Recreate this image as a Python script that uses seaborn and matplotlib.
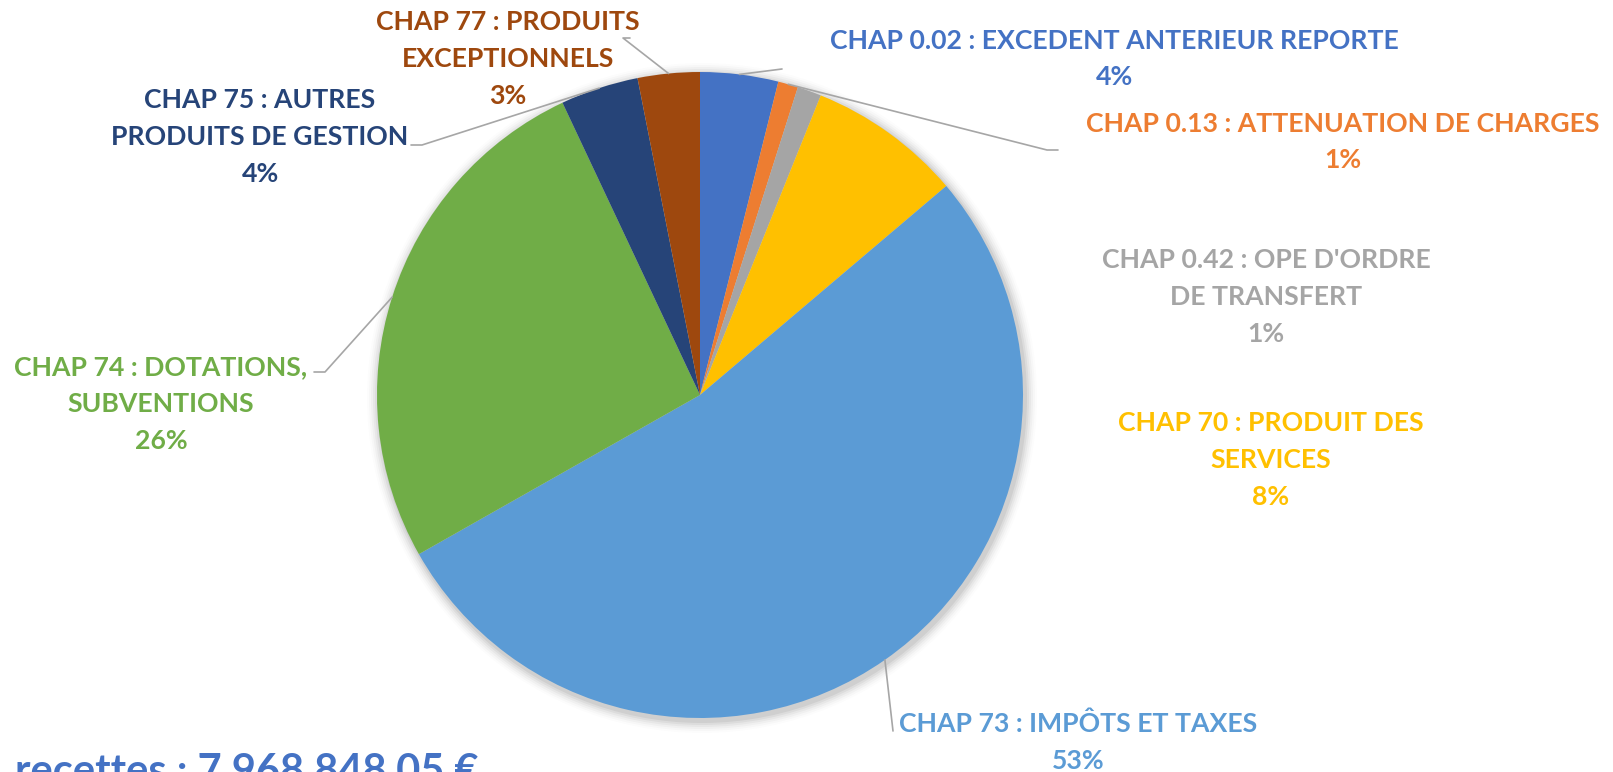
import numpy as np
import matplotlib
matplotlib.use("Agg")
import matplotlib.pyplot as plt
import seaborn as sns

# chapter names, as shown on the chart (clockwise from 12 o'clock)
labels = [
    "CHAP 0.02 : EXCEDENT ANTERIEUR REPORTE",
    "CHAP 0.13 : ATTENUATION DE CHARGES",
    "CHAP 0.42 : OPE D'ORDRE\nDE TRANSFERT",
    "CHAP 70 : PRODUIT DES\nSERVICES",
    "CHAP 73 : IMPÔTS ET TAXES",
    "CHAP 74 : DOTATIONS,\nSUBVENTIONS",
    "CHAP 75 : AUTRES\nPRODUITS DE GESTION",
    "CHAP 77 : PRODUITS\nEXCEPTIONNELS",
]
# share of total income (%)
shares = [3.9, 1.0, 1.2, 7.7, 53.0, 26.2, 3.9, 3.1]
shown_pct = ["4%", "1%", "1%", "8%", "53%", "26%", "4%", "3%"]
colors = ["#4472C4", "#ED7D31", "#A5A5A5", "#FFC000",
          "#5B9BD5", "#70AD47", "#264478", "#9E480E"]
total_text = "recettes : 7 968 848,05 €"

W, H = 1613, 772
sns.set_theme(style="white")
plt.rcParams["font.family"] = ["Lato", "DejaVu Sans"]

fig = plt.figure(figsize=(W / 100, H / 100), dpi=100)
ax = fig.add_axes([0, 0, 1, 1])

cx, cy, r = 700, H - 395, 323

# soft shadow round the pie
for k, a in enumerate(np.linspace(0.05, 0.012, 6)):
    ax.add_patch(plt.Circle((cx + 2, cy - 3), r + 2 + 2 * k, color="black",
                            alpha=a, lw=0, zorder=0))

wedges, _ = ax.pie(shares, colors=colors, startangle=90, counterclock=False,
                   center=(cx, cy), radius=r, frame=True,
                   wedgeprops=dict(linewidth=0))
ax.set_xlim(0, W)
ax.set_ylim(0, H)
ax.set_aspect("equal")
ax.axis("off")

# label layout (pixel centre of the text block, from top)
label_pos = [(1114, 59), (1343, 142), (1266, 297), (1271, 460),
             (1078, 742), (161, 404), (260, 137), (508, 59)]
# leader line elbows (None = no leader line)
leader = [
    [(782, 69)],
    [(1047, 150), (1058, 150)],
    None,
    None,
    [(893, 731)],
    [(325, 372), (314, 372)],
    [(422, 145), (411, 145)],
    [(623, 38), (630, 38)],
]

cum = np.cumsum([0] + shares)
tot = cum[-1]
for i, lab in enumerate(labels):
    x, y = label_pos[i]
    ax.text(x, H - y, lab + "\n" + shown_pct[i], ha="center", va="center",
            multialignment="center", color=colors[i], fontsize=19.2,
            fontweight="bold", linespacing=1.64)
    if leader[i] is not None:
        mid = (cum[i] + cum[i + 1]) / 2 / tot * 2 * np.pi
        pts = [(cx + r * np.sin(mid), cy + r * np.cos(mid))]
        pts += [(px, H - py) for px, py in leader[i]]
        xs, ys = zip(*pts)
        ax.plot(xs, ys, color="#A6A6A6", lw=1.2, zorder=5)

ax.text(15, -12, total_text, ha="left", va="baseline", color="#4472C4",
        fontsize=30, fontweight="bold", clip_on=False)

fig.savefig("out.png", dpi=100)
